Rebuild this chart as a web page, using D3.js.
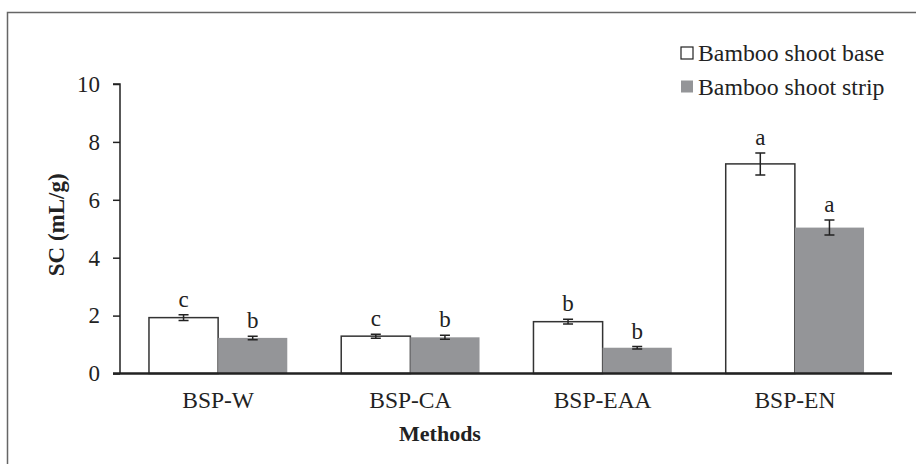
<!DOCTYPE html>
<html lang="en">
<head>
    <meta charset="UTF-8">
    <title>SC by method</title>
    <style>
        body { margin: 0; background: #fff; }
        svg { display: block; font-family: "Liberation Serif", "Times New Roman", serif; }
    </style>
</head>
<body>
    <svg id="chart" width="916" height="464"></svg>
    <script src="https://cdn.jsdelivr.net/npm/d3@7/dist/d3.min.js"></script>
    <script>
        // data
        const methods = ["BSP-W", "BSP-CA", "BSP-EAA", "BSP-EN"];
        const seriesNames = ["Bamboo shoot base", "Bamboo shoot strip"];
        const baseValues = [1.93, 1.29, 1.79, 7.24];
        const stripValues = [1.23, 1.25, 0.89, 5.04];
        const baseErrors = [0.10, 0.07, 0.08, 0.38];
        const stripErrors = [0.06, 0.07, 0.04, 0.26];
        const baseLetters = ["c", "c", "b", "a"];
        const stripLetters = ["b", "b", "b", "a"];
        const yTicks = [0, 2, 4, 6, 8, 10];

        const fills = ["#ffffff", "#949598"];

        const svg = d3.select("#chart");

        // outer frame
        svg.append("path")
            .attr("d", "M7.5,464 V12.5 H916")
            .attr("fill", "none")
            .attr("stroke", "#666")
            .attr("stroke-width", 1.5);

        const plotLeft = 120, plotRight = 892, plotTop = 84, plotBottom = 373.5;

        const x = d3.scaleBand().domain(methods).range([plotLeft + 2, plotRight - 1]).paddingInner(0).paddingOuter(0);
        const x1 = d3.scaleBand().domain(seriesNames).range([0, x.bandwidth()]).paddingOuter(0.39).paddingInner(0);
        const y = d3.scaleLinear().domain([0, 10]).range([plotBottom, plotTop]);

        const rows = methods.map((m, i) => ({
            method: m,
            bars: [
                { s: seriesNames[0], v: baseValues[i], e: baseErrors[i], l: baseLetters[i], k: 0 },
                { s: seriesNames[1], v: stripValues[i], e: stripErrors[i], l: stripLetters[i], k: 1 }
            ]
        }));

        const groups = svg.selectAll(".grp")
            .data(rows)
            .enter().append("g")
            .attr("class", "grp")
            .attr("transform", d => `translate(${x(d.method)},0)`);

        const bar = groups.selectAll(".bar")
            .data(d => d.bars)
            .enter().append("g")
            .attr("class", "bar");

        bar.append("rect")
            .attr("x", d => x1(d.s))
            .attr("width", x1.bandwidth())
            .attr("y", d => y(d.v))
            .attr("height", d => y(0) - y(d.v))
            .attr("fill", d => fills[d.k])
            .attr("stroke", d => d.k === 0 ? "#333" : "none")
            .attr("stroke-width", 1.5);

        // error bars
        const cx = d => x1(d.s) + x1.bandwidth() / 2;
        bar.append("path")
            .attr("d", d => {
                const c = cx(d), y0 = y(d.v - d.e), y1 = y(d.v + d.e);
                return `M${c},${y0}V${y1}M${c - 5},${y0}H${c + 5}M${c - 5},${y1}H${c + 5}`;
            })
            .attr("fill", "none")
            .attr("stroke", "#222")
            .attr("stroke-width", 1.5);

        // significance letters
        bar.append("text")
            .attr("x", cx)
            .attr("y", d => y(d.v + d.e) - 8)
            .attr("text-anchor", "middle")
            .attr("font-size", 23)
            .attr("fill", "#222")
            .text(d => d.l);

        // y axis
        const yAxis = svg.append("g")
            .attr("transform", `translate(${plotLeft},0)`)
            .call(d3.axisLeft(y).tickValues(yTicks).tickSize(7).tickPadding(13).tickFormat(d3.format("d")));
        yAxis.select(".domain").attr("d", `M-7,${plotTop}H0V${plotBottom}`).attr("stroke", "#222").attr("stroke-width", 1.5);
        yAxis.selectAll(".tick line").attr("stroke", "#222").attr("stroke-width", 1.5);
        yAxis.selectAll(".tick text")
            .attr("font-family", "Liberation Serif, serif")
            .attr("font-size", 23)
            .attr("fill", "#222");

        // x axis
        const xAxis = svg.append("g")
            .attr("transform", `translate(0,${plotBottom})`)
            .call(d3.axisBottom(x).tickSize(0).tickPadding(18));
        xAxis.select(".domain").attr("d", `M${plotLeft - 7},0H${plotRight}`).attr("stroke", "#222").attr("stroke-width", 2.5);
        xAxis.selectAll(".tick text")
            .attr("font-family", "Liberation Serif, serif")
            .attr("font-size", 23.5)
            .attr("fill", "#222");

        // axis titles
        svg.append("text")
            .attr("transform", `translate(64,${(plotTop + plotBottom) / 2 - 4}) rotate(-90)`)
            .attr("text-anchor", "middle")
            .attr("font-size", 23)
            .attr("font-weight", "bold")
            .attr("fill", "#222")
            .text("SC (mL/g)");

        svg.append("text")
            .attr("x", (plotLeft + plotRight) / 2 - 66)
            .attr("y", 441)
            .attr("text-anchor", "middle")
            .attr("font-size", 22)
            .attr("font-weight", "bold")
            .attr("fill", "#222")
            .text("Methods");

        // legend
        const legend = svg.selectAll(".legend")
            .data(seriesNames)
            .enter().append("g")
            .attr("class", "legend")
            .attr("transform", (d, i) => `translate(681,${47 + i * 33.5})`);
        legend.append("rect")
            .attr("width", 12)
            .attr("height", 12)
            .attr("fill", (d, i) => fills[i])
            .attr("stroke", (d, i) => i === 0 ? "#222" : "none")
            .attr("stroke-width", 1.2);
        legend.append("text")
            .attr("x", 17)
            .attr("y", 14)
            .attr("font-size", 23.8)
            .attr("fill", "#222")
            .text(d => d);
    </script>
</body>
</html>
